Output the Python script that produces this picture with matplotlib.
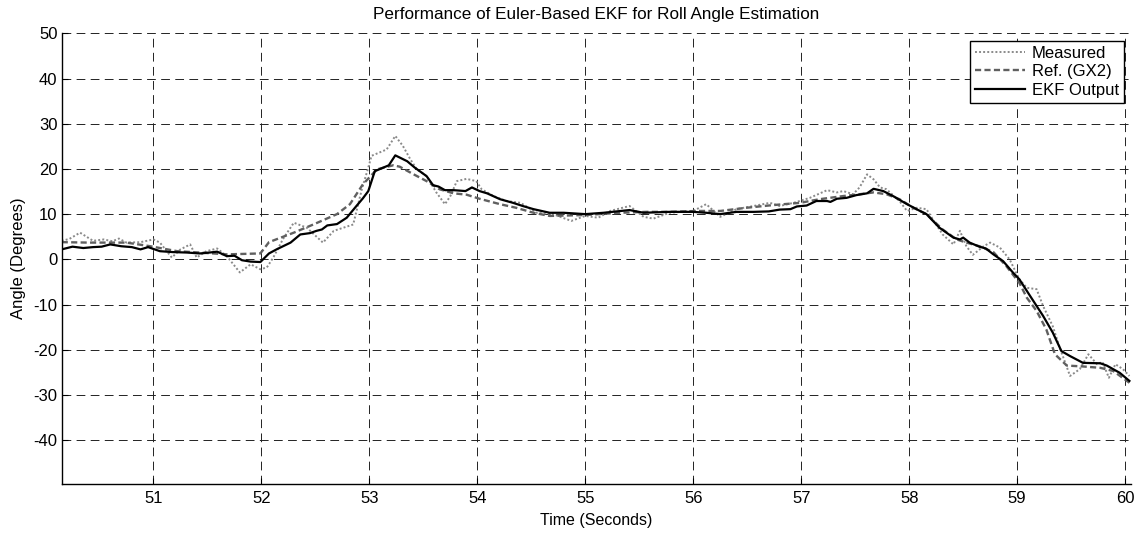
import matplotlib
matplotlib.use("Agg")
import matplotlib.pyplot as plt

plt.rcParams['font.family'] = ['Liberation Sans', 'DejaVu Sans']

title = "Performance of Euler-Based EKF for Roll Angle Estimation"
xlabel = "Time (Seconds)"
ylabel = "Angle (Degrees)"
series_names = ["Measured", "Ref. (GX2)", "EKF Output"]
xticks = [51, 52, 53, 54, 55, 56, 57, 58, 59, 60]
yticks = [50, 40, 30, 20, 10, 0, -10, -20, -30, -40]

t_meas = [50.15, 50.22, 50.32, 50.38, 50.44, 50.54, 50.62, 50.68, 50.75, 50.88,
          51.00, 51.06, 51.17, 51.25, 51.34, 51.40, 51.49, 51.59, 51.68, 51.80,
          51.90, 51.99, 52.05, 52.11, 52.20, 52.30, 52.42, 52.57, 52.67, 52.76,
          52.85, 52.93, 52.99, 53.02, 53.10, 53.16, 53.24, 53.31, 53.38, 53.44,
          53.53, 53.62, 53.70, 53.75, 53.81, 53.90, 53.99, 54.04, 54.15, 54.27,
          54.40, 54.55, 54.70, 54.87, 55.00, 55.12, 55.23, 55.41, 55.54, 55.63,
          55.78, 56.00, 56.12, 56.25, 56.40, 56.56, 56.71, 56.80, 56.93, 57.08,
          57.24, 57.33, 57.39, 57.48, 57.54, 57.61, 57.67, 57.73, 57.79, 57.91,
          57.98, 58.07, 58.16, 58.22, 58.31, 58.41, 58.47, 58.53, 58.59, 58.69,
          58.75, 58.84, 58.93, 59.02, 59.09, 59.18, 59.24, 59.33, 59.40, 59.49,
          59.58, 59.66, 59.74, 59.79, 59.85, 59.91, 59.98, 60.04]
measured = [4.1, 4.5, 5.9, 5.0, 4.1, 4.4, 4.0, 4.6, 3.7, 3.8,
            4.4, 3.7, 0.4, 2.2, 3.3, 0.4, 1.8, 2.4, 0.7, -2.9,
            -1.1, -2.2, -1.8, 0.4, 4.5, 8.1, 7.0, 3.7, 6.3, 7.0,
            7.7, 15.5, 20.3, 22.9, 23.7, 24.3, 27.3, 25.1, 22.1, 19.9,
            18.4, 14.8, 12.2, 14.0, 17.3, 17.8, 17.3, 15.5, 14.0, 12.9,
            12.5, 10.3, 10.0, 8.5, 9.6, 9.2, 10.7, 11.8, 9.4, 9.0,
            10.3, 10.7, 12.2, 9.4, 11.1, 11.8, 12.5, 11.8, 12.5, 13.6,
            15.3, 14.8, 15.1, 14.4, 15.9, 18.8, 17.7, 15.9, 15.5, 12.9,
            10.7, 11.4, 11.1, 8.8, 5.5, 3.3, 6.3, 2.9, 1.0, 2.9,
            3.7, 2.6, 0.0, -4.4, -6.3, -6.6, -10.3, -14.8, -19.9, -25.8,
            -24.3, -21.0, -23.2, -22.7, -26.2, -23.2, -24.3, -25.8]

t_ref = [50.15, 50.40, 50.75, 50.97, 51.22, 51.43, 51.68, 51.99, 52.07, 52.30,
         52.48, 52.70, 52.82, 52.94, 53.07, 53.22, 53.28, 53.41, 53.53, 53.65,
         53.78, 53.90, 54.02, 54.21, 54.36, 54.52, 54.67, 55.00, 55.32, 55.57,
         55.78, 56.03, 56.25, 56.49, 56.74, 56.99, 57.17, 57.39, 57.54, 57.67,
         57.79, 57.91, 58.04, 58.16, 58.31, 58.44, 58.53, 58.65, 58.78, 58.90,
         59.02, 59.09, 59.18, 59.27, 59.35, 59.46, 59.61, 59.77, 59.89, 60.04]
reference = [3.8, 3.7, 3.7, 2.9, 1.8, 1.5, 1.1, 1.3, 3.8, 5.9,
             7.7, 10.0, 12.2, 16.6, 19.9, 20.8, 20.5, 18.8, 17.3, 15.5,
             14.6, 14.3, 13.4, 12.2, 11.4, 10.3, 9.6, 9.8, 10.3, 10.5,
             10.5, 10.7, 10.7, 11.4, 12.0, 12.5, 13.3, 14.0, 14.4, 14.8,
             14.4, 13.3, 11.4, 10.0, 6.6, 4.4, 3.7, 2.9, 1.6, -1.5,
             -5.2, -8.5, -11.4, -15.5, -21.0, -23.5, -23.7, -24.0, -24.7, -27.3]

t_ekf = [50.15, 50.25, 50.35, 50.44, 50.52, 50.60, 50.70, 50.80, 50.88, 50.95,
         51.06, 51.18, 51.31, 51.43, 51.52, 51.59, 51.68, 51.75, 51.82, 51.90,
         51.99, 52.07, 52.14, 52.27, 52.36, 52.45, 52.51, 52.56, 52.61, 52.70,
         52.79, 52.88, 52.94, 52.99, 53.05, 53.18, 53.24, 53.35, 53.42, 53.53,
         53.59, 53.64, 53.70, 53.78, 53.89, 53.95, 54.02, 54.09, 54.21, 54.33,
         54.42, 54.52, 54.67, 54.80, 55.00, 55.17, 55.41, 55.54, 55.78, 56.00,
         56.12, 56.25, 56.40, 56.56, 56.70, 56.80, 56.90, 56.96, 57.05, 57.14,
         57.24, 57.27, 57.33, 57.42, 57.51, 57.61, 57.67, 57.76, 57.85, 57.98,
         58.10, 58.16, 58.28, 58.41, 58.47, 58.50, 58.56, 58.65, 58.71, 58.78,
         58.87, 58.96, 59.02, 59.12, 59.24, 59.33, 59.41, 59.49, 59.61, 59.77,
         59.83, 59.95, 60.04]
ekf = [2.2, 2.8, 2.5, 2.7, 2.8, 3.3, 2.9, 2.7, 2.2, 2.7,
       1.8, 1.6, 1.5, 1.3, 1.5, 1.7, 0.7, 0.8, -0.2, -0.5,
       -0.6, 1.3, 2.2, 3.7, 5.5, 5.8, 6.3, 6.6, 7.5, 7.8,
       9.2, 11.8, 13.5, 15.1, 19.5, 20.8, 23.0, 21.7, 20.3, 18.4,
       16.4, 16.1, 15.3, 15.3, 15.1, 15.9, 15.1, 14.6, 13.3, 12.5,
       11.8, 11.1, 10.3, 10.3, 10.0, 10.3, 10.9, 10.3, 10.5, 10.5,
       10.3, 10.0, 10.5, 10.5, 10.6, 11.0, 11.1, 11.7, 11.9, 12.9,
       12.9, 12.7, 13.4, 13.6, 14.2, 14.6, 15.6, 15.1, 14.0, 12.2,
       10.7, 10.0, 7.0, 4.8, 4.4, 4.8, 3.7, 2.8, 2.4, 1.1,
       -0.4, -2.9, -4.4, -8.1, -12.5, -16.2, -20.3, -21.4, -22.9, -23.0,
       -23.5, -25.1, -26.9]

W, H, DPI = 1144, 534, 100
fig = plt.figure(figsize=(W / DPI, H / DPI), dpi=DPI)
ax = fig.add_axes([61.7 / W, (H - 484) / H, (1130.5 - 61.7) / W, (484 - 33.3) / H])

ax.plot(t_meas, measured, color='#8a8a8a', lw=1.4, linestyle=(0, (1, 1.1)),
        label=series_names[0])
ax.plot(t_ref, reference, color='#606060', lw=1.7, linestyle=(0, (2.6, 1.4)),
        label=series_names[1])
ax.plot(t_ekf, ekf, color='black', lw=1.6, label=series_names[2])

ax.set_xlim(50.15, 60.05)
ax.set_ylim(-49.7, 50)
ax.set_xticks(xticks)
ax.set_yticks(yticks)
ax.set_xticklabels([str(v) for v in xticks])
ax.set_yticklabels([str(v) for v in yticks])

ax.grid(True, color='#222222', lw=0.7, linestyle=(0, (9, 5.5)))
ax.set_axisbelow(True)
for s in ['top', 'right']:
    ax.spines[s].set_visible(False)
for s in ['left', 'bottom']:
    ax.spines[s].set_linewidth(1.0)
    ax.spines[s].set_color('black')
ax.tick_params(direction='in', length=4, width=0.8, labelsize=12)
ax.tick_params(axis='x', pad=5)
ax.tick_params(axis='y', pad=3)

ax.set_title(title, fontsize=12.3, pad=10)
ax.set_xlabel(xlabel, fontsize=11.5, labelpad=5)
ax.set_ylabel(ylabel, fontsize=12, labelpad=5)

leg = ax.legend(loc='upper right', bbox_to_anchor=(0.994, 0.983), borderaxespad=0,
                fontsize=12, frameon=True, fancybox=False, handlelength=3.0,
                handletextpad=0.4, borderpad=0.3, labelspacing=0.2)
leg.get_frame().set_edgecolor('black')
leg.get_frame().set_linewidth(1.0)
leg.get_frame().set_alpha(1.0)

fig.savefig('out.png', dpi=DPI)
